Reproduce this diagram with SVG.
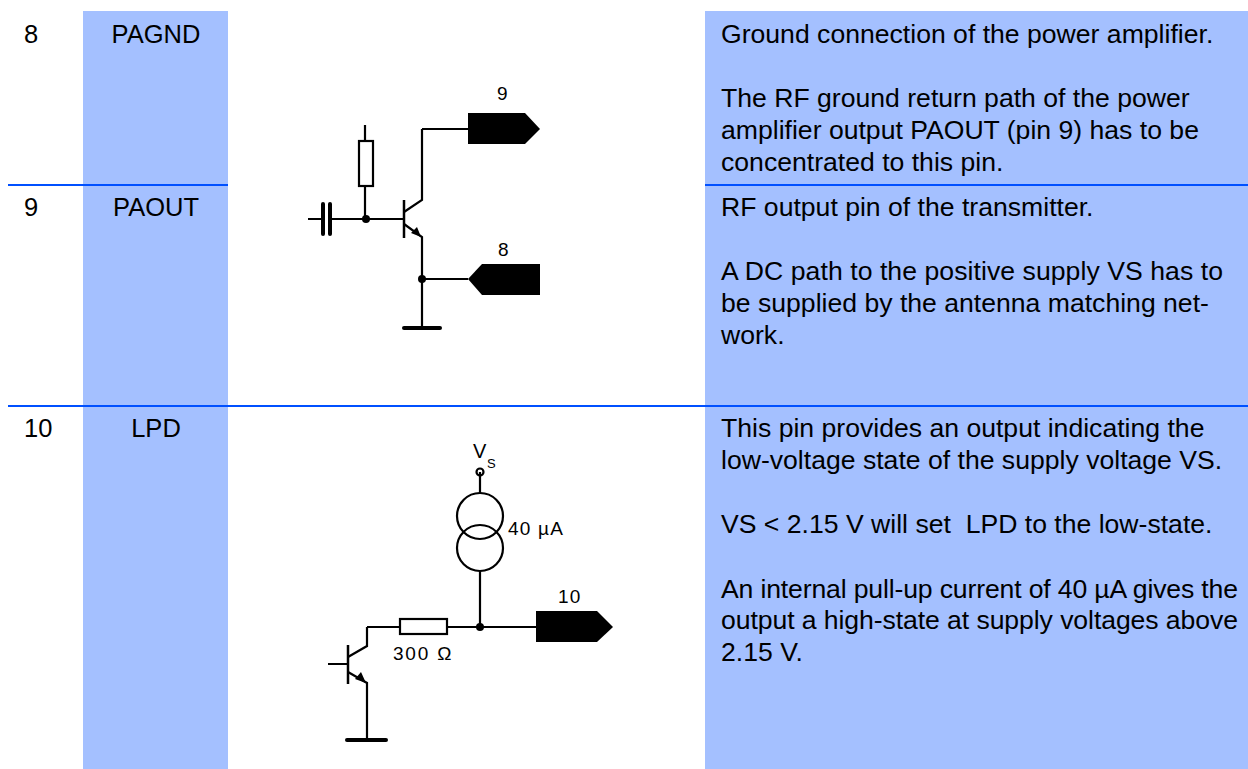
<svg xmlns="http://www.w3.org/2000/svg" width="1248" height="769" viewBox="0 0 1248 769">
<style>
text{font-family:"Liberation Sans",Arial,sans-serif;fill:#000}
.t{font-size:26.600px}
.n{font-size:25.500px}
.s{font-size:19px;letter-spacing:1.200px}
.w{fill:none;stroke:#000;stroke-width:2.200}
.th{fill:none;stroke:#000;stroke-width:4;stroke-linecap:round}
.c{fill:none;stroke:#000;stroke-width:2.200}
.sep{stroke:#0050ff;stroke-width:2}
.col{fill:#a4c0ff}
</style>
<rect width="1248" height="769" fill="#fff"/>
<g id="columns">
<rect class="col" x="83" y="11" width="145" height="758"/>
<rect class="col" x="705" y="11" width="543" height="758"/>
</g>
<g id="separators">
<line class="sep" x1="8" y1="185" x2="228" y2="185"/>
<line class="sep" x1="705" y1="185" x2="1248" y2="185"/>
<line class="sep" x1="8" y1="406" x2="1248" y2="406"/>
</g>
<g id="row8">
<text class="n" x="24" y="43">8</text>
<text class="n" x="156" y="43" text-anchor="middle">PAGND</text>
<text class="t" x="721" y="43">Ground connection of the power amplifier.</text>
<text class="t" x="721" y="107">The RF ground return path of the power</text>
<text class="t" x="721" y="139">amplifier output PAOUT (pin 9) has to be</text>
<text class="t" x="721" y="171">concentrated to this pin.</text>
</g>
<g id="row9">
<text class="n" x="24" y="216">9</text>
<text class="n" x="156" y="216" text-anchor="middle">PAOUT</text>
<text class="t" x="721" y="216">RF output pin of the transmitter.</text>
<text class="t" x="721" y="280" textLength="502">A DC path to the positive supply VS has to</text>
<text class="t" x="721" y="312">be supplied by the antenna matching net-</text>
<text class="t" x="721" y="344">work.</text>
</g>
<g id="row10">
<text class="n" x="24" y="437">10</text>
<text class="n" x="156" y="437" text-anchor="middle">LPD</text>
<text class="t" x="721" y="437">This pin provides an output indicating the</text>
<text class="t" x="721" y="469">low-voltage state of the supply voltage VS.</text>
<text class="t" x="721" y="533" xml:space="preserve">VS &lt; 2.15 V will set  LPD to the low-state.</text>
<text class="t" x="721" y="598" textLength="517">An internal pull-up current of 40 µA gives the</text>
<text class="t" x="721" y="629" textLength="517">output a high-state at supply voltages above</text>
<text class="t" x="721" y="661">2.15 V.</text>
</g>
<g id="connectors">
<path class="w" d="M365 125V140M365 186V219M308 219H323M330 219H404M422 129H468M422 129V200L404 212M404 224L422 237V327M422 279H468"/>
<path class="w" d="M480 472V493M480 571V627M367 627H400M447 627H536M367 627V646L348 657M328 664H348M348 672L367 683V740"/>
</g>
<g id="circuit-top">
<rect class="c" x="359" y="141" width="14" height="45" fill="#fff"/>
<line class="th" x1="323" y1="204" x2="323" y2="234"/>
<line class="th" x1="330" y1="204" x2="330" y2="234"/>
<circle cx="366" cy="219" r="4"/>
<line x1="404" y1="200" x2="404" y2="238" stroke="#000" stroke-width="2.500"/>
<polygon points="421,237 411,233 417,227"/>
<circle cx="422" cy="279" r="4"/>
<line class="th" x1="404" y1="328" x2="440" y2="328"/>
<polygon points="468,113 525,113 540,129 525,144 468,144"/>
<polygon points="540,264 482,264 468,279 482,295 540,295"/>
<text class="s" x="497" y="100">9</text>
<text class="s" x="498" y="256">8</text>
</g>
<g id="circuit-bottom">
<circle class="c" cx="480" cy="472" r="3.500" fill="#fff"/>
<circle class="c" cx="480" cy="516" r="23"/>
<circle class="c" cx="480" cy="548" r="23"/>
<rect class="c" x="400" y="619" width="47" height="15" fill="#fff"/>
<circle cx="480" cy="627" r="4"/>
<polygon points="536,611 597,611 613,627 597,642 536,642"/>
<line x1="348" y1="645" x2="348" y2="684" stroke="#000" stroke-width="2.500"/>
<polygon points="366,683 355,679 361,672"/>
<line class="th" x1="347" y1="740" x2="386" y2="740"/>
<text class="s" x="473" y="458" style="font-size:20px">V</text>
<text x="487" y="468" style="font-size:13px">S</text>
<text class="s" x="508" y="535">40 µA</text>
<text class="s" x="558" y="603">10</text>
<text class="s" x="393" y="660" style="letter-spacing:1.800px">300 Ω</text>
</g>
</svg>
